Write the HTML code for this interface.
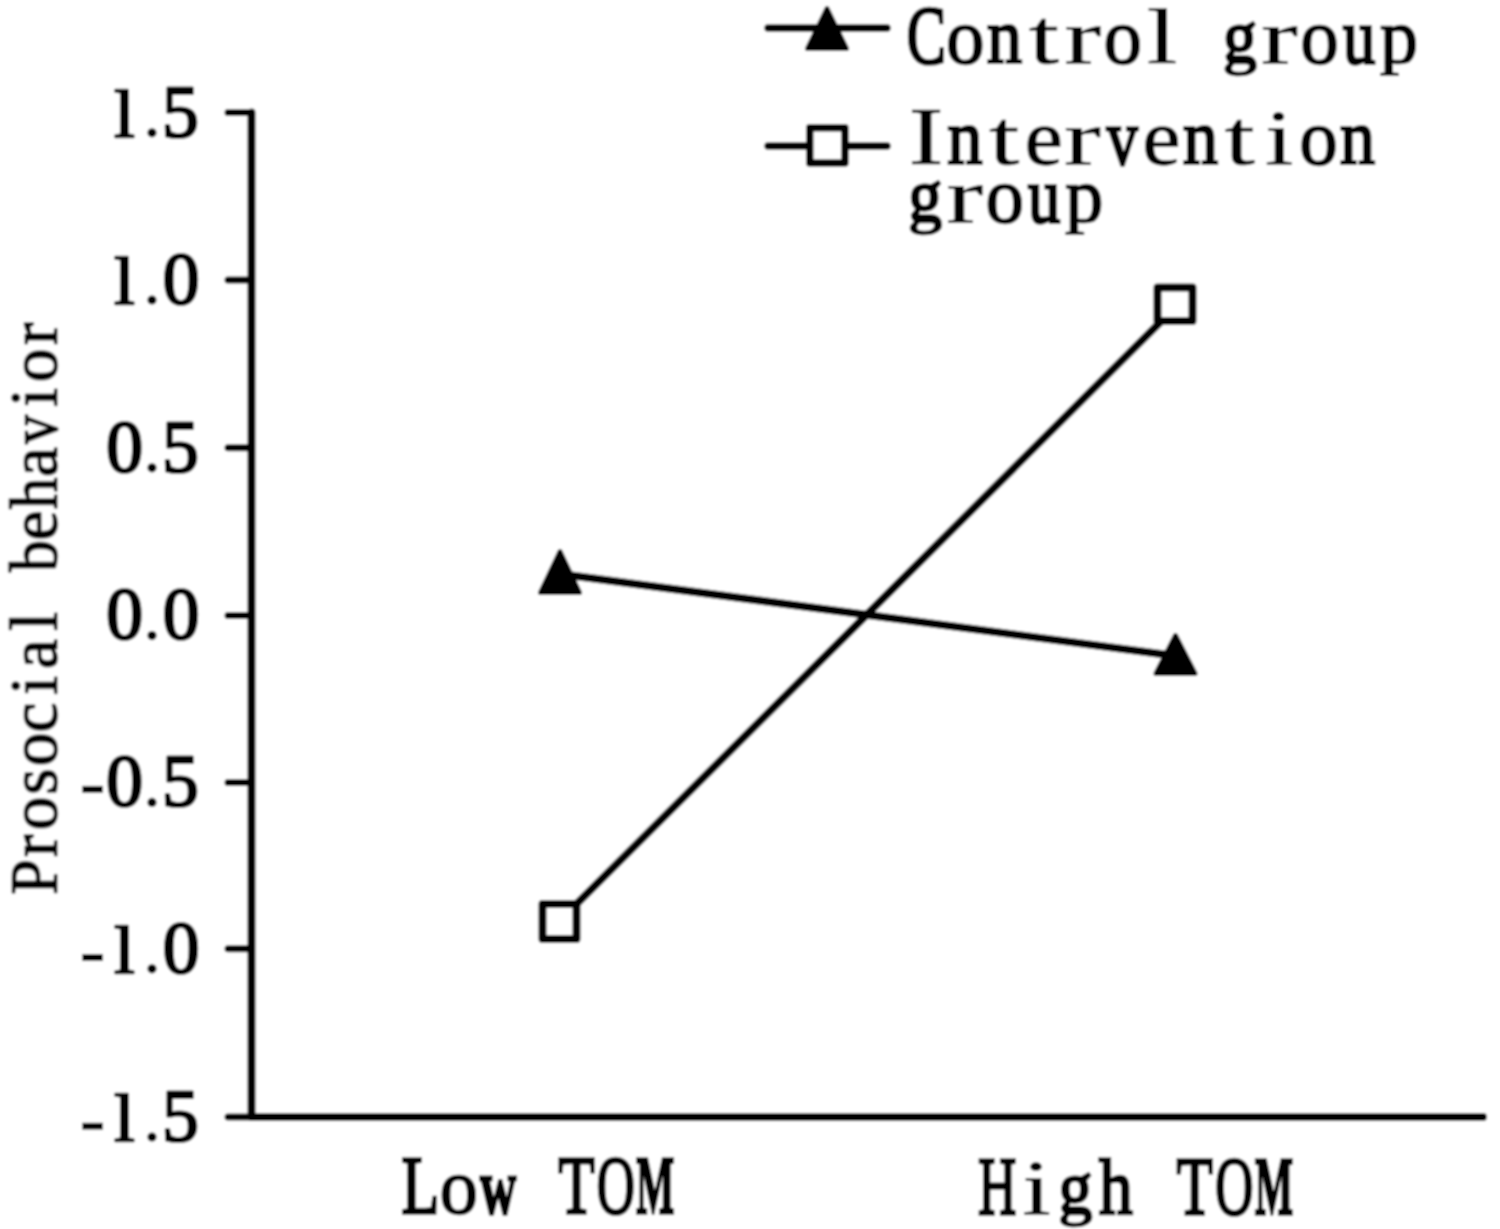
<!DOCTYPE html>
<html>
<head>
<meta charset="utf-8">
<style>
html,body{margin:0;padding:0;background:#fff;width:1500px;height:1229px;overflow:hidden;}
svg{display:block;}
.tk{font-family:"Liberation Serif",serif;font-size:73.4px;fill:#000;stroke:#000;stroke-width:3.0px;stroke-linejoin:round;}
.lg{font-family:"Liberation Serif",serif;font-size:82px;fill:#000;stroke:#000;stroke-width:1.2px;}
.lgb{font-family:"Liberation Serif",serif;font-size:82px;font-weight:bold;fill:#000;stroke:#000;stroke-width:1px;}
.tt{font-family:"Liberation Serif",serif;font-size:67.0px;fill:#000;stroke:#000;stroke-width:1.5px;stroke-linejoin:round;}
</style>
</head>
<body>
<svg width="1500" height="1229" viewBox="0 0 1500 1229">
  <defs><filter id="soft" x="0" y="0" width="1500" height="1229" filterUnits="userSpaceOnUse"><feGaussianBlur stdDeviation="0.9"/></filter><clipPath id="ca"><rect x="-100" y="-200" width="200" height="200.6"/></clipPath><clipPath id="cb"><rect x="-100" y="0" width="200" height="100"/></clipPath></defs>
<g filter="url(#soft)">
<rect x="0" y="0" width="1500" height="1229" fill="#fff"/>
  <path d="M251.5,112.5 V1117 H1483" stroke="#000" stroke-width="8" fill="none" stroke-linecap="round" stroke-linejoin="round"/>
  <g stroke="#000" stroke-width="7" fill="none" stroke-linecap="round" stroke-linejoin="round">
    <path d="M228,112.5 H251.5"/>
    <path d="M228,280 H251.5"/>
    <path d="M228,447.8 H251.5"/>
    <path d="M228,615.6 H251.5"/>
    <path d="M228,782.4 H251.5"/>
    <path d="M228,948.8 H251.5"/>
    <path d="M228,1117 H251.5"/>
  </g>
  <g fill="#000">
<text class="tk" transform="translate(124.5,136.5) scale(1,0.91)" x="-10.20">l</text>
<text class="tk" transform="translate(181,136.5)" x="-19.05">5</text>
<circle cx="152" cy="132.8" r="4.6"/>
<text class="tk" transform="translate(124.5,303.7) scale(1,0.91)" x="-10.20">l</text>
<text class="tk" transform="translate(181,303.7)" x="-18.35">0</text>
<circle cx="152" cy="300.0" r="4.6"/>
<text class="tk" transform="translate(124.5,471.5)" x="-18.35">0</text>
<text class="tk" transform="translate(181,471.5)" x="-19.05">5</text>
<circle cx="152" cy="467.8" r="4.6"/>
<text class="tk" transform="translate(124.5,639.3000000000001)" x="-18.35">0</text>
<text class="tk" transform="translate(181,639.3000000000001)" x="-18.35">0</text>
<circle cx="152" cy="635.6" r="4.6"/>
<text class="tk" transform="translate(124.5,806.1)" x="-18.35">0</text>
<text class="tk" transform="translate(181,806.1)" x="-19.05">5</text>
<circle cx="152" cy="802.4" r="4.6"/>
<rect x="82.3" y="785.9" width="20.6" height="6.8"/>
<text class="tk" transform="translate(124.5,972.5) scale(1,0.91)" x="-10.20">l</text>
<text class="tk" transform="translate(181,972.5)" x="-18.35">0</text>
<circle cx="152" cy="968.8" r="4.6"/>
<rect x="82.3" y="954.1" width="20.6" height="6.8"/>
<text class="tk" transform="translate(124.5,1140.7) scale(1,0.91)" x="-10.20">l</text>
<text class="tk" transform="translate(181,1140.7)" x="-19.05">5</text>
<circle cx="152" cy="1137.0" r="4.6"/>
<rect x="82.3" y="1122.8" width="20.6" height="6.8"/>
  </g>
  <g stroke="#000" stroke-width="8" fill="none" stroke-linecap="round">
    <path d="M560,574 L1176,656"/>
    <path d="M559,921.5 L1178.5,304"/>
  </g>
  <g fill="#000" stroke="#000" stroke-width="5" stroke-linejoin="round">
    <path d="M560,551.5 L579.5,592.5 L540.5,592.5 Z"/>
    <path d="M1175.5,635.5 L1195,673.5 L1156,673.5 Z"/>
  </g>
  <g fill="#fff" stroke="#000" stroke-width="8" stroke-linejoin="round">
    <rect x="542.5" y="904" width="34" height="35"/>
    <rect x="1157.5" y="287.5" width="35" height="33.5"/>
  </g>
  <g stroke="#000" stroke-width="7.5" fill="none" stroke-linecap="round">
    <path d="M768,28 H887"/>
    <path d="M768,146 H887"/>
  </g>
  <path d="M827,8.5 L846.5,48.5 L807.5,48.5 Z" fill="#000" stroke="#000" stroke-width="5" stroke-linejoin="round"/>
  <rect x="809.75" y="127.75" width="35.2" height="35.2" fill="#fff" stroke="#000" stroke-width="7.5" stroke-linejoin="round"/>
<g>
<g transform="translate(926.00,62.50)"><text class="lg" transform="scale(0.716,1.000)" x="-26.77" style="stroke-width:3.50px">C</text></g>
<g transform="translate(965.35,62.50)"><text class="lg" transform="scale(0.929,0.960)" x="-20.50" style="stroke-width:2.38px">o</text></g>
<g transform="translate(1004.70,62.50)"><text class="lg" transform="scale(0.851,0.960)" x="-20.82" style="stroke-width:3.28px">n</text></g>
<g transform="translate(1044.05,62.50)"><text class="lg" transform="scale(1.335,0.960)" x="-11.55" style="stroke-width:0.60px">t</text></g>
<g transform="translate(1083.40,62.50)"><text class="lg" transform="scale(1.350,0.960)" x="-14.11" style="stroke-width:0.60px">r</text></g>
<g transform="translate(1122.75,62.50)"><text class="lg" transform="scale(0.929,0.960)" x="-20.50" style="stroke-width:2.38px">o</text></g>
<g transform="translate(1162.10,62.50)"><text class="lg" transform="scale(1.350,0.960)" x="-11.39" style="stroke-width:0.60px">l</text></g>
<g transform="translate(1240.80,62.50)"><g clip-path="url(#ca)"><text class="lg" transform="scale(0.825,0.960)" x="-21.48" style="stroke-width:3.50px">g</text></g><g transform="scale(1,0.7)"><g clip-path="url(#cb)"><text class="lg" transform="scale(0.825,0.960)" x="-21.48" style="stroke-width:3.50px">g</text></g></g></g>
<g transform="translate(1280.15,62.50)"><text class="lg" transform="scale(1.350,0.960)" x="-14.11" style="stroke-width:0.60px">r</text></g>
<g transform="translate(1319.50,62.50)"><text class="lg" transform="scale(0.929,0.960)" x="-20.50" style="stroke-width:2.38px">o</text></g>
<g transform="translate(1358.85,62.50)"><text class="lg" transform="scale(0.785,0.960)" x="-20.34" style="stroke-width:3.50px">u</text></g>
<g transform="translate(1398.20,62.50)"><g clip-path="url(#ca)"><text class="lg" transform="scale(0.926,0.960)" x="-19.56" style="stroke-width:2.42px">p</text></g><g transform="scale(1,0.7)"><g clip-path="url(#cb)"><text class="lg" transform="scale(0.926,0.960)" x="-19.56" style="stroke-width:2.42px">p</text></g></g></g>
<g transform="translate(926.00,163.50)"><text class="lg" transform="scale(1.283,1.000)" x="-13.69" style="stroke-width:0.60px">I</text></g>
<g transform="translate(965.25,163.50)"><text class="lg" transform="scale(0.851,0.960)" x="-20.82" style="stroke-width:3.28px">n</text></g>
<g transform="translate(1004.50,163.50)"><text class="lg" transform="scale(1.335,0.960)" x="-11.55" style="stroke-width:0.60px">t</text></g>
<g transform="translate(1043.75,163.50)"><text class="lg" transform="scale(1.041,0.960)" x="-18.38" style="stroke-width:1.34px">e</text></g>
<g transform="translate(1083.00,163.50)"><text class="lg" transform="scale(1.350,0.960)" x="-14.11" style="stroke-width:0.60px">r</text></g>
<g transform="translate(1122.25,163.50)"><text class="lg" transform="scale(0.757,0.960)" x="-20.50" style="stroke-width:3.50px">v</text></g>
<g transform="translate(1161.50,163.50)"><text class="lg" transform="scale(1.041,0.960)" x="-18.38" style="stroke-width:1.34px">e</text></g>
<g transform="translate(1200.75,163.50)"><text class="lg" transform="scale(0.851,0.960)" x="-20.82" style="stroke-width:3.28px">n</text></g>
<g transform="translate(1240.00,163.50)"><text class="lg" transform="scale(1.335,0.960)" x="-11.55" style="stroke-width:0.60px">t</text></g>
<g transform="translate(1279.25,163.50)"><text class="lg" transform="scale(1.244,0.960)" x="-11.47" style="stroke-width:0.60px">i</text></g>
<g transform="translate(1318.50,163.50)"><text class="lg" transform="scale(0.929,0.960)" x="-20.50" style="stroke-width:2.38px">o</text></g>
<g transform="translate(1357.75,163.50)"><text class="lg" transform="scale(0.851,0.960)" x="-20.82" style="stroke-width:3.28px">n</text></g>
<g transform="translate(926.00,221.50)"><g clip-path="url(#ca)"><text class="lg" transform="scale(0.825,0.960)" x="-21.48" style="stroke-width:3.50px">g</text></g><g transform="scale(1,0.7)"><g clip-path="url(#cb)"><text class="lg" transform="scale(0.825,0.960)" x="-21.48" style="stroke-width:3.50px">g</text></g></g></g>
<g transform="translate(965.35,221.50)"><text class="lg" transform="scale(1.350,0.960)" x="-14.11" style="stroke-width:0.60px">r</text></g>
<g transform="translate(1004.70,221.50)"><text class="lg" transform="scale(0.929,0.960)" x="-20.50" style="stroke-width:2.38px">o</text></g>
<g transform="translate(1044.05,221.50)"><text class="lg" transform="scale(0.785,0.960)" x="-20.34" style="stroke-width:3.50px">u</text></g>
<g transform="translate(1083.40,221.50)"><g clip-path="url(#ca)"><text class="lg" transform="scale(0.926,0.960)" x="-19.56" style="stroke-width:2.42px">p</text></g><g transform="scale(1,0.7)"><g clip-path="url(#cb)"><text class="lg" transform="scale(0.926,0.960)" x="-19.56" style="stroke-width:2.42px">p</text></g></g></g>
<g transform="translate(419.50,1213.00)"><text class="lg" transform="scale(0.756,1.000)" x="-23.76" style="stroke-width:3.50px">L</text></g>
<g transform="translate(458.75,1213.00)"><text class="lg" transform="scale(0.929,0.960)" x="-20.50" style="stroke-width:2.38px">o</text></g>
<g transform="translate(498.00,1213.00)"><text class="lgb" transform="scale(0.613,0.960)" x="-29.51" style="stroke-width:3.50px">w</text></g>
<g transform="translate(576.50,1213.00)"><text class="lg" transform="scale(0.719,1.000)" x="-25.10" style="stroke-width:3.50px">T</text></g>
<g transform="translate(615.75,1213.00)"><text class="lg" transform="scale(0.643,1.000)" x="-29.61" style="stroke-width:3.50px">O</text></g>
<g transform="translate(655.00,1213.00)"><text class="lgb" transform="scale(0.493,1.000)" x="-38.22" style="stroke-width:3.50px">M</text></g>
<g transform="translate(997.30,1213.50)"><text class="lg" transform="scale(0.644,1.000)" x="-29.59" style="stroke-width:3.50px">H</text></g>
<g transform="translate(1036.80,1213.50)"><text class="lg" transform="scale(1.244,0.960)" x="-11.47" style="stroke-width:0.60px">i</text></g>
<g transform="translate(1076.30,1213.50)"><g clip-path="url(#ca)"><text class="lg" transform="scale(0.825,0.960)" x="-21.48" style="stroke-width:3.50px">g</text></g><g transform="scale(1,0.7)"><g clip-path="url(#cb)"><text class="lg" transform="scale(0.825,0.960)" x="-21.48" style="stroke-width:3.50px">g</text></g></g></g>
<g transform="translate(1115.80,1213.50)"><text class="lg" transform="scale(0.821,0.960)" x="-20.36" style="stroke-width:3.50px">h</text></g>
<g transform="translate(1194.80,1213.50)"><text class="lg" transform="scale(0.719,1.000)" x="-25.10" style="stroke-width:3.50px">T</text></g>
<g transform="translate(1234.30,1213.50)"><text class="lg" transform="scale(0.643,1.000)" x="-29.61" style="stroke-width:3.50px">O</text></g>
<g transform="translate(1273.80,1213.50)"><text class="lgb" transform="scale(0.493,1.000)" x="-38.22" style="stroke-width:3.50px">M</text></g>
</g>
  <g transform="translate(56.6,877.4) rotate(-90)">
<g transform="translate(0.00,0.00)"><text class="tt" transform="scale(0.948,1.000)" x="-18.25">P</text></g>
<g transform="translate(32.00,0.00)"><text class="tt" transform="scale(1.000,1.000)" x="-11.53">r</text></g>
<g transform="translate(64.00,0.00)"><text class="tt" transform="scale(1.000,1.000)" x="-16.75">o</text></g>
<g transform="translate(96.00,0.00)"><text class="tt" transform="scale(1.000,1.000)" x="-13.20">s</text></g>
<g transform="translate(128.00,0.00)"><text class="tt" transform="scale(1.000,1.000)" x="-16.75">o</text></g>
<g transform="translate(160.00,0.00)"><text class="tt" transform="scale(1.000,1.000)" x="-15.11">c</text></g>
<g transform="translate(192.00,0.00)"><text class="tt" transform="scale(1.000,1.000)" x="-9.37">i</text></g>
<g transform="translate(224.00,0.00)"><text class="tt" transform="scale(1.000,1.000)" x="-15.59">a</text></g>
<g transform="translate(256.00,0.00)"><text class="tt" transform="scale(1.000,1.000)" x="-9.31">l</text></g>
<g transform="translate(320.00,0.00)"><text class="tt" transform="scale(0.945,1.000)" x="-15.47">b</text></g>
<g transform="translate(352.00,0.00)"><text class="tt" transform="scale(1.000,1.000)" x="-15.02">e</text></g>
<g transform="translate(384.00,0.00)"><text class="tt" transform="scale(0.942,1.000)" x="-16.64">h</text></g>
<g transform="translate(416.00,0.00)"><text class="tt" transform="scale(1.000,1.000)" x="-15.59">a</text></g>
<g transform="translate(448.00,0.00)"><text class="tt" transform="scale(0.865,1.000)" x="-16.75">v</text></g>
<g transform="translate(480.00,0.00)"><text class="tt" transform="scale(1.000,1.000)" x="-9.37">i</text></g>
<g transform="translate(512.00,0.00)"><text class="tt" transform="scale(1.000,1.000)" x="-16.75">o</text></g>
<g transform="translate(544.00,0.00)"><text class="tt" transform="scale(1.000,1.000)" x="-11.53">r</text></g>
  </g>
</g>
</svg>
</body>
</html>
